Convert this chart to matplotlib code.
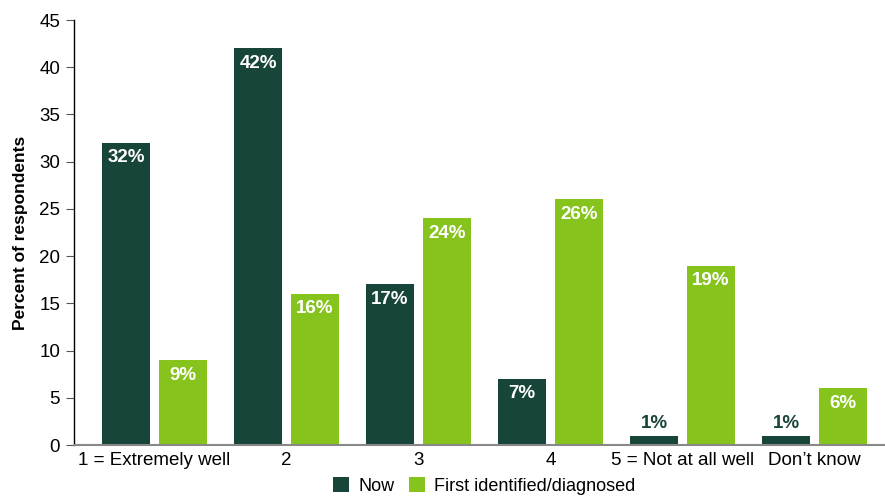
import matplotlib.pyplot as plt
import numpy as np

plt.rcParams['font.family'] = ['Liberation Sans', 'DejaVu Sans']

categories = ['1 = Extremely well', '2', '3', '4', '5 = Not at all well', 'Don\u2019t know']
now = [32, 42, 17, 7, 1, 1]
first = [9, 16, 24, 26, 19, 6]
series_names = ['Now', 'First identified/diagnosed']

dark = '#18453a'
light = '#86c31d'

fig = plt.figure(figsize=(8.85, 4.96), dpi=100)
ax = fig.add_axes([74 / 885, 51 / 496, 811 / 885, 425 / 496])

x = np.arange(len(categories))
w = 0.364
off = 0.216
b1 = ax.bar(x - off, now, w, color=dark, label=series_names[0])
b2 = ax.bar(x + off, first, w, color=light, label=series_names[1])


def label_bars(bars, values):
    for bar, v in zip(bars, values):
        cx = bar.get_x() + bar.get_width() / 2
        if v >= 3:
            ax.annotate(f'{v}%', (cx, v), xytext=(0, -15), textcoords='offset pixels',
                        ha='center', va='center', color='white', fontsize=13.5,
                        fontweight='bold')
        else:
            ax.annotate(f'{v}%', (cx, v), xytext=(0, 12), textcoords='offset pixels',
                        ha='center', va='center', color=dark, fontsize=13.5,
                        fontweight='bold')


label_bars(b1, now)
label_bars(b2, first)

ax.set_xlim(-0.61, 5.534)
ax.set_ylim(0, 45)
ax.set_yticks(range(0, 46, 5))
ax.set_xticks(x)
ax.set_xticklabels(categories, fontsize=13.5)
ax.tick_params(axis='y', labelsize=13.5, length=6, width=0.8, color='#555555', pad=4)
ax.tick_params(axis='x', length=0, pad=5)
ax.set_ylabel('Percent of respondents', fontsize=12.5, fontweight='bold', labelpad=8)

for s in ['top', 'right']:
    ax.spines[s].set_visible(False)
ax.spines['left'].set_color('black')
ax.spines['left'].set_linewidth(1)
ax.spines['bottom'].set_color('#888888')
ax.spines['bottom'].set_linewidth(1.5)

# legend sits at the very bottom edge, under the category labels
fig.legend(handles=[b1, b2], labels=series_names, loc='center', bbox_to_anchor=(484 / 885, 10 / 496),
           ncol=2, frameon=False, fontsize=13, handlelength=0.9, handleheight=0.9,
           handletextpad=0.5, columnspacing=0.8)

fig.savefig('out.png', dpi=100)
